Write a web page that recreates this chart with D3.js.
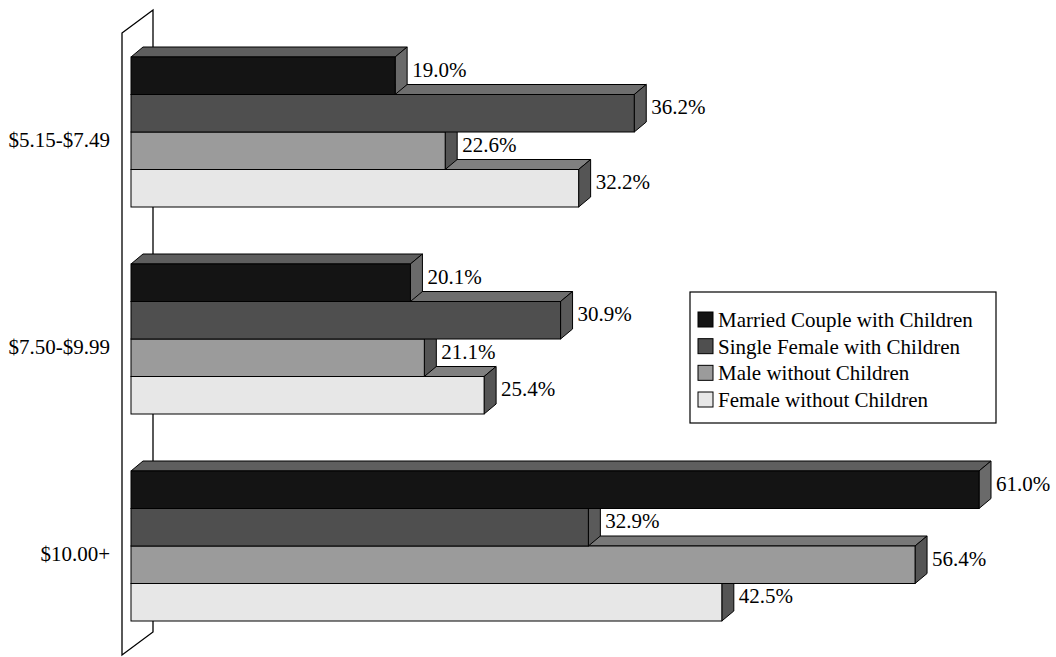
<!DOCTYPE html>
<html>
<head>
<meta charset="utf-8">
<script src="https://cdn.jsdelivr.net/npm/d3@7"></script>
<style>
  html, body { margin: 0; padding: 0; background: #fff; }
  svg { display: block; }
  text { font-family: "Liberation Serif", "Times New Roman", serif; fill: #000; }
</style>
</head>
<body>
<svg id="chart" width="1056" height="657"></svg>
<script>
// Wage brackets (categories) and household types (series)
const categories = ["$5.15-$7.49", "$7.50-$9.99", "$10.00+"];
const seriesNames = [
  "Married Couple with Children",
  "Single Female with Children",
  "Male without Children",
  "Female without Children"
];
// Percent of each household type, per wage bracket
const married      = [19.0, 20.1, 61.0];
const singleFemale = [36.2, 30.9, 32.9];
const maleNoKids   = [22.6, 21.1, 56.4];
const femaleNoKids = [32.2, 25.4, 42.5];
const seriesValues = [married, singleFemale, maleNoKids, femaleNoKids];

// Face shades for each series: front, top, side
const frontFill = ["#141414", "#4f4f4f", "#9b9b9b", "#e7e7e7"];
const topFill   = ["#5e5e5e", "#6e6e6e", "#787878", "#808080"];
const sideFill  = ["#6a6a6a", "#5a5a5a", "#555555", "#555555"];

const svg = d3.select("#chart");

// 3D depth of the bars and of the back wall
const dx = 12, dy = -10;
const wallDx = 31, wallDy = -23;

const x = d3.scaleLinear().domain([0, 61]).range([131, 979]);
const y = d3.scaleBand().domain(categories).range([57, 621])
  .paddingInner(57 / 207).paddingOuter(0);
const yInner = d3.scaleBand().domain(seriesNames).range([0, y.bandwidth()]);

// Back wall (category axis plane)
const wallX = 122, wallTop = 33, wallBottom = 655;
svg.append("polygon")
  .attr("points", [
    [wallX, wallTop], [wallX + wallDx, wallTop + wallDy],
    [wallX + wallDx, wallBottom + wallDy], [wallX, wallBottom]
  ].map(p => p.join(",")).join(" "))
  .attr("fill", "#fff").attr("stroke", "#000").attr("stroke-width", 1.3);

// Category labels
svg.append("g").selectAll("text")
  .data(categories).join("text")
  .attr("x", 110)
  .attr("y", d => y(d) + y.bandwidth() / 2 + 8)
  .attr("text-anchor", "end")
  .attr("dominant-baseline", "central")
  .attr("font-size", 21)
  .text(d => d);

// Bars: draw lower bars first so upper bars cover their top faces
const bars = [];
categories.forEach((c, ci) => {
  seriesNames.forEach((s, si) => {
    bars.push({ cat: c, series: s, si, value: seriesValues[si][ci] });
  });
});
bars.sort((a, b) => (b.si - a.si));

const barG = svg.append("g");
bars.forEach(d => {
  const x0 = x(0), x1 = x(d.value);
  const y0 = y(d.cat) + yInner(d.series);
  const y1 = y0 + yInner.bandwidth();
  const g = barG.append("g");
  const pts = arr => arr.map(p => p.join(",")).join(" ");
  // top face
  g.append("polygon")
    .attr("points", pts([[x0, y0], [x0 + dx, y0 + dy], [x1 + dx, y0 + dy], [x1, y0]]))
    .attr("fill", topFill[d.si]).attr("stroke", "#000").attr("stroke-width", 1)
    .attr("stroke-linejoin", "round");
  // side face
  g.append("polygon")
    .attr("points", pts([[x1, y0], [x1 + dx, y0 + dy], [x1 + dx, y1 + dy], [x1, y1]]))
    .attr("fill", sideFill[d.si]).attr("stroke", "#000").attr("stroke-width", 1)
    .attr("stroke-linejoin", "round");
  // front face
  g.append("rect")
    .attr("x", x0).attr("y", y0)
    .attr("width", x1 - x0).attr("height", y1 - y0)
    .attr("fill", frontFill[d.si]).attr("stroke", "#000").attr("stroke-width", 1);
});

// Value labels
svg.append("g").selectAll("text")
  .data(bars).join("text")
  .attr("x", d => x(d.value) + dx + 5)
  .attr("y", d => y(d.cat) + yInner(d.series) + yInner.bandwidth() / 2 - 6)
  .attr("dominant-baseline", "central")
  .attr("font-size", 21)
  .text(d => d.value.toFixed(1) + "%");

// Legend
const legend = svg.append("g");
legend.append("rect")
  .attr("x", 690).attr("y", 292).attr("width", 306).attr("height", 131)
  .attr("fill", "#fff").attr("stroke", "#000").attr("stroke-width", 1.2);
const rowY = d3.scalePoint().domain(seriesNames).range([312, 392]);
const items = legend.selectAll("g.item").data(seriesNames).join("g").attr("class", "item");
items.append("rect")
  .attr("x", 698).attr("y", d => rowY(d))
  .attr("width", 15).attr("height", 15)
  .attr("fill", (d, i) => frontFill[i]).attr("stroke", "#000").attr("stroke-width", 1);
items.append("text")
  .attr("x", 718).attr("y", d => rowY(d) + 15)
  .attr("font-size", 21)
  .text(d => d);
</script>
</body>
</html>
